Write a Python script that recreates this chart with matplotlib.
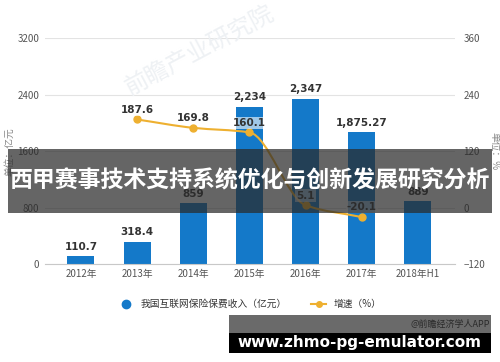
import numpy as np
import matplotlib.pyplot as plt
from matplotlib.path import Path
from matplotlib.patches import PathPatch, Rectangle
from matplotlib.lines import Line2D

plt.rcParams['font.family'] = ['Noto Sans CJK SC', 'DejaVu Sans']

# 数据
years = ['2012年', '2013年', '2014年', '2015年', '2016年', '2017年', '2018年H1']
premium = [110.7, 318.4, 858.9, 2234, 2347, 1875.27, 889.0]
premium_labels = ['110.7', '318.4', '859', '2,234', '2,347', '1,875.27', '889']
growth_idx = [1, 2, 3, 4, 5]
growth = [187.6, 169.8, 160.1, 5.1, -20.1]
growth_labels = ['187.6', '169.8', '160.1', '5.1', '-20.1']

blue = '#1479c9'
gold = '#eeb030'

fig = plt.figure(figsize=(5, 3.62), dpi=100)

# faint watermark behind the chart
fig.text(0.40, 0.86, '前瞻产业研究院', fontsize=17, color='#eef1f4', rotation=28,
         ha='center', va='center', zorder=0)

ax = fig.add_axes([0.09, 0.2707, 0.82, 0.623])
ax.patch.set_alpha(0)
x = np.arange(len(years))
ax.bar(x, premium, width=0.48, color=blue, zorder=2)
ax.set_xlim(-0.64, 6.66)
ax.set_ylim(0, 3200)
ax.set_yticks([0, 800, 1600, 2400, 3200])
ax.set_xticks(x)
ax.set_xticklabels(years)
ax.tick_params(axis='both', length=0, labelsize=7, colors='#555555')
ax.tick_params(axis='y', pad=4)
ax.grid(axis='y', color='#e3e3e3', lw=0.8, zorder=0)
for s in ['top', 'right', 'left']:
    ax.spines[s].set_visible(False)
ax.spines['bottom'].set_color('#c8c8c8')
for xi, v, t in zip(x, premium, premium_labels):
    ax.text(xi, v + 60, t, ha='center', va='bottom', fontsize=7.5,
            fontweight='bold', color='#333333', family='DejaVu Sans', zorder=5)
ax.set_ylabel('单位：亿元', fontsize=7, color='#888888', labelpad=2)

ax2 = ax.twinx()
ax2.set_ylim(-120, 360)
ax2.set_yticks([-120, 0, 120, 240, 360])
ax2.tick_params(axis='y', length=0, labelsize=7, colors='#555555', pad=6)
for s in ax2.spines.values():
    s.set_visible(False)
ax2.set_ylabel('单位：%', fontsize=7, color='#888888', rotation=270, labelpad=10)

# smooth curve through the growth points
gx = np.array(growth_idx, dtype=float)
gy = np.array(growth, dtype=float)
n = len(gx)
slopes = np.zeros(n)
for i in range(n):
    if i == 0:
        slopes[i] = (gy[1] - gy[0]) / (gx[1] - gx[0])
    elif i == n - 1:
        slopes[i] = (gy[-1] - gy[-2]) / (gx[-1] - gx[-2])
    else:
        d1 = (gy[i] - gy[i - 1])
        d2 = (gy[i + 1] - gy[i])
        slopes[i] = 0 if d1 * d2 <= 0 else 2 / (1 / d1 + 1 / d2)
verts = [(gx[0], gy[0])]
codes = [Path.MOVETO]
for i in range(n - 1):
    h = (gx[i + 1] - gx[i]) / 3
    verts += [(gx[i] + h, gy[i] + slopes[i] * h),
              (gx[i + 1] - h, gy[i + 1] - slopes[i + 1] * h),
              (gx[i + 1], gy[i + 1])]
    codes += [Path.CURVE4] * 3
ax2.add_patch(PathPatch(Path(verts, codes), fill=False, edgecolor=gold, lw=1.5, zorder=3))
ax2.plot(gx, gy, 'o', color=gold, ms=5, zorder=4)
for xi, v, t in zip(gx, gy, growth_labels):
    ax2.text(xi, v + 10, t, ha='center', va='bottom', fontsize=7.5,
             fontweight='bold', color='#333333', family='DejaVu Sans', zorder=5,
             bbox=dict(boxstyle='square,pad=0.1', fc='white', ec='none', alpha=0.6))

# legend
h1 = Line2D([], [], marker='o', ls='none', color=blue, ms=6)
h2 = Line2D([], [], marker='o', color=gold, ms=4, lw=1.5)
fig.legend([h1, h2], ['我国互联网保险保费收入（亿元）', '增速（%）'],
           loc='center', bbox_to_anchor=(0.5, 0.16), ncol=2, frameon=False,
           fontsize=7, handlelength=1.5, columnspacing=2.5, labelcolor='#333333')

# banner
fig.patches.append(Rectangle((8 / 500, 1 - 213 / 362), 484 / 500, 64 / 362,
                             transform=fig.transFigure, fc='#2a2a2a', alpha=0.72,
                             ec='none', zorder=10))
fig.text(0.5, 1 - 181 / 362, '西甲赛事技术支持系统优化与创新发展研究分析',
         ha='center', va='center', fontsize=16.5, fontweight='bold',
         color='white', zorder=11)

# bottom box
fig.patches.append(Rectangle((229 / 500, 1 - 353 / 362), 262 / 500, 38 / 362,
                             transform=fig.transFigure, fc='black', ec='none', zorder=10))
fig.patches.append(Rectangle((229 / 500, 1 - 333 / 362), 262 / 500, 18 / 362,
                             transform=fig.transFigure, fc='#6a6a6a', ec='none', zorder=10))
fig.text(490 / 500, 1 - 324 / 362, '@前瞻经济学人APP', ha='right', va='center',
         fontsize=6.5, color='#2a2a2a', zorder=11)
fig.text(359 / 500, 1 - 342 / 362, 'www.zhmo-pg-emulator.com', ha='center',
         va='center', fontsize=11, fontweight='bold', color='white',
         family='DejaVu Sans', zorder=11)

fig.savefig('out.png', dpi=100)
